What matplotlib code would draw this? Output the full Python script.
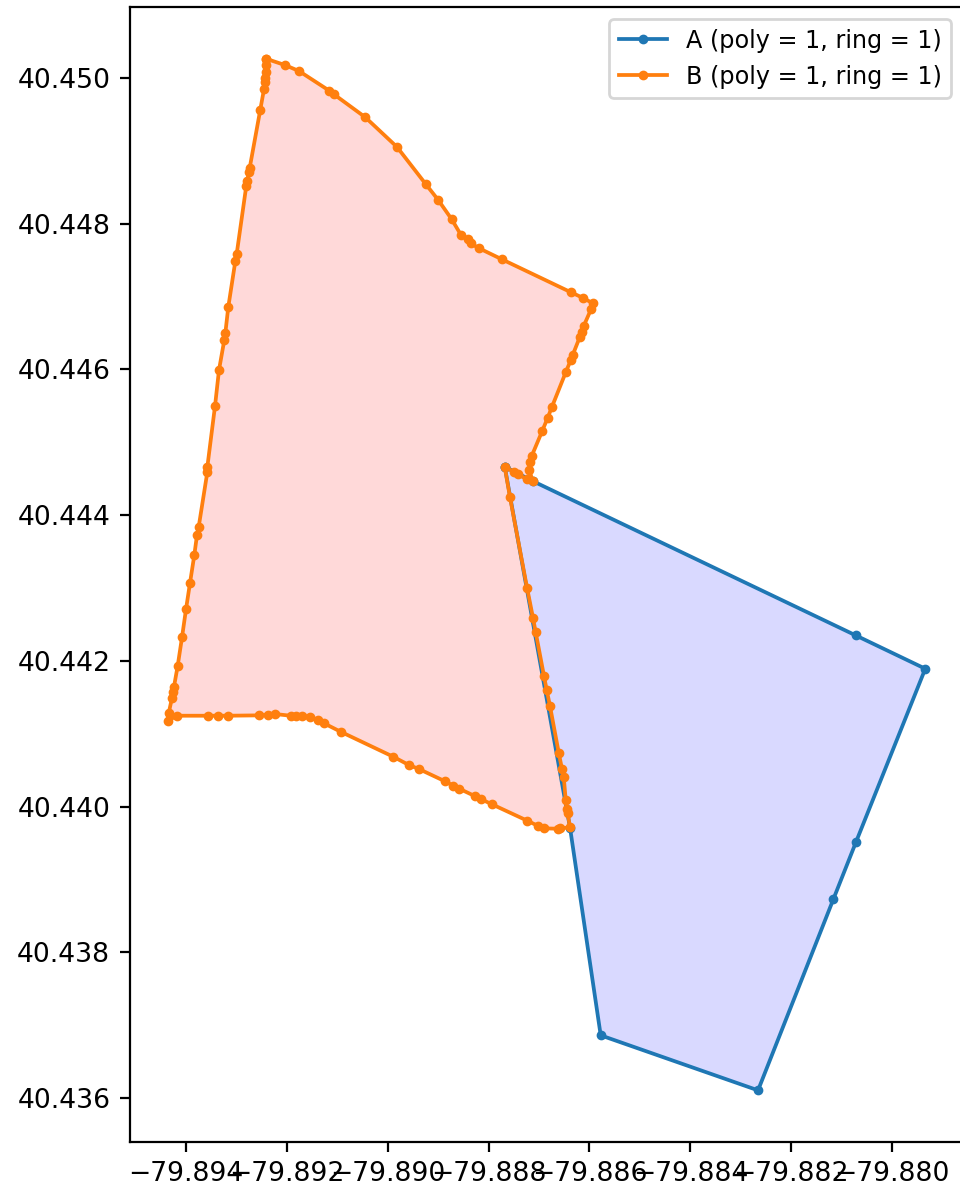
import numpy as np
import matplotlib
matplotlib.use('Agg')
import matplotlib.pyplot as plt

# polygon A (ring 1), lon / lat
a_lon = [-79.887679, -79.887125, -79.880725, -79.879346, -79.880719,
         -79.881168, -79.882660, -79.885777, -79.886385, -79.887679]
a_lat = [40.444665, 40.444468, 40.442350, 40.441892, 40.439513,
         40.438727, 40.436105, 40.436860, 40.439710, 40.444665]

# polygon B (ring 1), lon / lat
b_lon = [-79.892409, -79.892033, -79.891755, -79.891155, -79.891062,
         -79.890441, -79.889813, -79.889245, -79.889001, -79.888729,
         -79.888545, -79.888412, -79.888353, -79.888183, -79.887733,
         -79.886366, -79.886134, -79.885930, -79.885969, -79.886114,
         -79.886154, -79.886193, -79.886332, -79.886372, -79.886465,
         -79.886742, -79.886827, -79.886934, -79.887144, -79.887178,
         -79.887192, -79.887125, -79.887243, -79.887410, -79.887501,
         -79.887679, -79.887574, -79.887237, -79.887119, -79.887065,
         -79.886901, -79.886847, -79.886782, -79.886609, -79.886544,
         -79.886510, -79.886471, -79.886451, -79.886431, -79.886385,
         -79.886584, -79.886629, -79.886895, -79.887014, -79.887232,
         -79.887931, -79.888155, -79.888274, -79.888579, -79.888698,
         -79.888862, -79.889377, -79.889576, -79.889887, -79.890917,
         -79.891260, -79.891379, -79.891537, -79.891702, -79.891820,
         -79.891920, -79.892225, -79.892369, -79.892554, -79.893168,
         -79.893366, -79.893564, -79.894166, -79.894357, -79.894337,
         -79.894271, -79.894246, -79.894232, -79.894159, -79.894073,
         -79.893994, -79.893915, -79.893830, -79.893776, -79.893742,
         -79.893572, -79.893572, -79.893419, -79.893340, -79.893235,
         -79.893215, -79.893156, -79.893017, -79.892989, -79.892799,
         -79.892779, -79.892752, -79.892732, -79.892522, -79.892449,
         -79.892429, -79.892423, -79.892415, -79.892409, -79.892409]
b_lat = [40.450265, 40.450178, 40.450096, 40.449826, 40.449776,
         40.449461, 40.449053, 40.448545, 40.448330, 40.448061,
         40.447845, 40.447786, 40.447731, 40.447662, 40.447511,
         40.447059, 40.446984, 40.446907, 40.446825, 40.446596,
         40.446518, 40.446441, 40.446198, 40.446125, 40.445969,
         40.445488, 40.445337, 40.445159, 40.444812, 40.444733,
         40.444619, 40.444468, 40.444492, 40.444560, 40.444592,
         40.444665, 40.444245, 40.443004, 40.442592, 40.442392,
         40.441792, 40.441600, 40.441380, 40.440739, 40.440515,
         40.440410, 40.440094, 40.439962, 40.439907, 40.439715,
         40.439701, 40.439696, 40.439701, 40.439733, 40.439806,
         40.440031, 40.440104, 40.440145, 40.440245, 40.440286,
         40.440347, 40.440515, 40.440570, 40.440684, 40.441023,
         40.441143, 40.441188, 40.441233, 40.441243, 40.441243,
         40.441247, 40.441270, 40.441261, 40.441252, 40.441247,
         40.441247, 40.441247, 40.441247, 40.441178, 40.441280,
         40.441494, 40.441568, 40.441645, 40.441929, 40.442323,
         40.442707, 40.443068, 40.443448, 40.443727, 40.443841,
         40.444588, 40.444656, 40.445498, 40.445992, 40.446404,
         40.446496, 40.446857, 40.447484, 40.447588, 40.448522,
         40.448590, 40.448706, 40.448765, 40.449565, 40.449845,
         40.449949, 40.449996, 40.450086, 40.450174, 40.450265]

labels = ['A (poly = 1, ring = 1)', 'B (poly = 1, ring = 1)']

fig = plt.figure(figsize=(4.8, 5.95), dpi=200)
ax = fig.add_axes([0.1352, 0.0404, 0.8681, 0.9536])

ax.fill(a_lon, a_lat, color='blue', alpha=0.15, lw=0)
ax.plot(a_lon, a_lat, marker='.', color='C0', lw=1.35, ms=5, label=labels[0])
ax.fill(b_lon, b_lat, color='red', alpha=0.15, lw=0)
ax.plot(b_lon, b_lat, marker='.', color='C1', lw=1.35, ms=5, label=labels[1])

ax.ticklabel_format(useOffset=False)
ax.tick_params(labelsize=9.6)
ax.legend(loc='upper right', fontsize=8.6)

fig.savefig('out.png', dpi=200)
